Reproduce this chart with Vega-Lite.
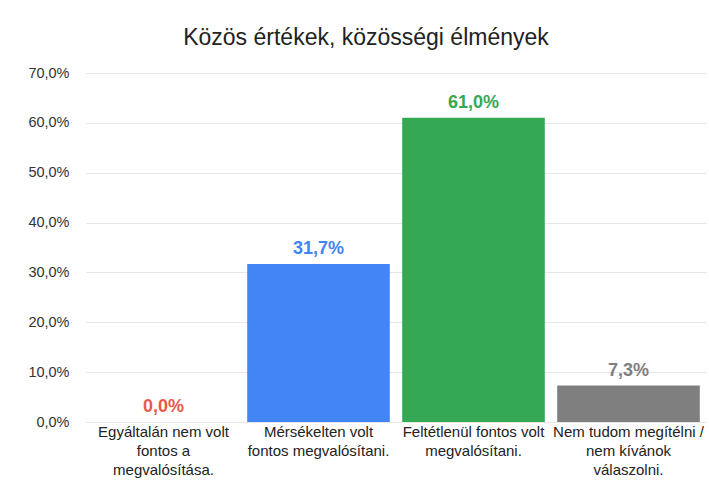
{
  "$schema": "https://vega.github.io/schema/vega-lite/v6.json",
  "autosize": {"type": "none"},
  "width": 620,
  "height": 349,
  "padding": {"left": 86, "top": 73, "right": 3, "bottom": 66},
  "background": "white",
  "config": {
    "locale": {"number": {"decimal": ",", "thousands": " ", "grouping": [3], "currency": ["", ""]}},
    "view": {"stroke": null},
    "font": "Liberation Sans"
  },
  "title": {
    "text": "Közös értékek, közösségi élmények",
    "fontSize": 23,
    "fontWeight": "normal",
    "color": "#222222",
    "anchor": "middle",
    "frame": "group",
    "dx": -30,
    "offset": 15
  },
  "data": {
    "values": [
      {"valasz": "Egyáltalán nem volt fontos a megvalósítása.", "arany": 0.0, "szin": "#e8594a"},
      {"valasz": "Mérsékelten volt fontos megvalósítani.", "arany": 0.317, "szin": "#4285f4"},
      {"valasz": "Feltétlenül fontos volt megvalósítani.", "arany": 0.61, "szin": "#34a853"},
      {"valasz": "Nem tudom megítélni / nem kívánok válaszolni.", "arany": 0.073, "szin": "#7f7f7f"}
    ]
  },
  "encoding": {
    "x": {
      "field": "valasz",
      "type": "nominal",
      "sort": null,
      "scale": {"paddingInner": 0.08, "paddingOuter": 0.04},
      "axis": {
        "title": null,
        "labelAngle": 0,
        "domain": false,
        "ticks": false,
        "labelFontSize": 15,
        "labelColor": "#222222",
        "labelLineHeight": 19,
        "labelBaseline": "top",
        "labelPadding": 2,
        "labelLimit": 200,
        "labelOverlap": false,
        "labelExpr": "datum.value == 'Egyáltalán nem volt fontos a megvalósítása.' ? ['Egyáltalán nem volt', 'fontos a', 'megvalósítása.'] : datum.value == 'Mérsékelten volt fontos megvalósítani.' ? ['Mérsékelten volt', 'fontos megvalósítani.'] : datum.value == 'Feltétlenül fontos volt megvalósítani.' ? ['Feltétlenül fontos volt', 'megvalósítani.'] : ['Nem tudom megítélni /', 'nem kívánok', 'válaszolni.']"
      }
    },
    "y": {
      "field": "arany",
      "type": "quantitative",
      "scale": {"domain": [0, 0.7], "nice": false},
      "axis": {
        "title": null,
        "format": ".1%",
        "values": [0, 0.1, 0.2, 0.3, 0.4, 0.5, 0.6, 0.7],
        "domain": false,
        "ticks": false,
        "labelFontSize": 14.5,
        "labelColor": "#333333",
        "labelPadding": 17,
        "gridColor": "#e6e6e6",
        "gridWidth": 1
      }
    }
  },
  "layer": [
    {
      "mark": {"type": "bar"},
      "encoding": {
        "color": {"field": "szin", "type": "nominal", "scale": null}
      }
    },
    {
      "mark": {"type": "text", "fontSize": 18, "fontWeight": "bold", "baseline": "alphabetic", "dy": -10},
      "encoding": {
        "text": {"field": "arany", "type": "quantitative", "format": ".1%"},
        "color": {"field": "szin", "type": "nominal", "scale": null}
      }
    }
  ]
}
